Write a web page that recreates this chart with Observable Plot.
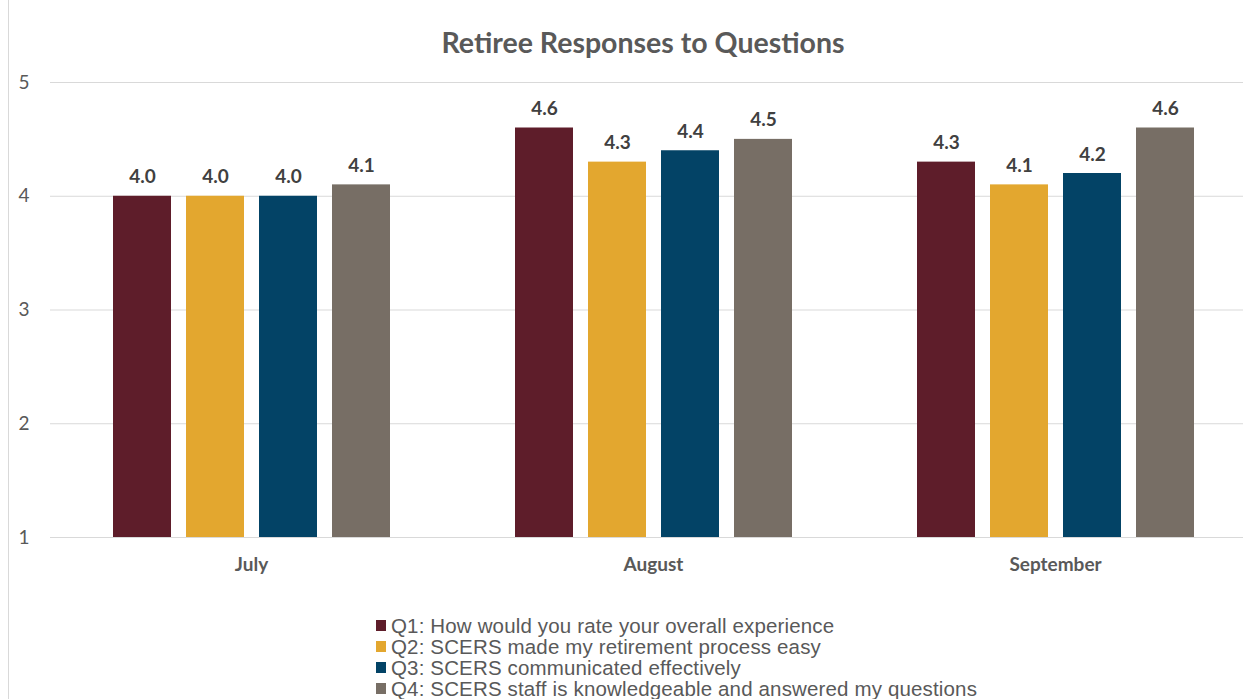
<!DOCTYPE html>
<html><head><meta charset="utf-8">
<script src="https://cdn.jsdelivr.net/npm/d3@7"></script>
<script src="https://cdn.jsdelivr.net/npm/@observablehq/plot@0.6"></script>
<style>
html,body{margin:0;padding:0;background:#fff;overflow:hidden;width:1243px;height:699px;position:relative}
#frame{position:absolute;left:8px;top:0;width:0;height:699px;border-left:1px solid #d9d9d9}
#title{position:absolute;left:0;width:1286px;top:26px;text-align:center;font:bold 28.5px Lato;color:#595959;line-height:32px}
#chart{position:absolute;left:0;top:60px;width:1256px}
#chart svg{max-width:none}
#legend{position:absolute;left:376px;top:615px;font:20.5px "Liberation Sans";letter-spacing:0.15px;color:#595959}
.row{display:flex;align-items:center;height:21px}
.sw{width:10px;height:11px;margin-right:5px}
</style></head>
<body>
<div id="frame"></div>
<div id="title">Retiree Responses to Questions</div>
<div id="chart"></div>
<div id="legend"></div>
<script>
const months = ["July", "August", "September"];
const questions = ["Q1", "Q2", "Q3", "Q4"];
const questionLabels = [
  "Q1: How would you rate your overall experience",
  "Q2: SCERS made my retirement process easy",
  "Q3: SCERS communicated effectively",
  "Q4: SCERS staff is knowledgeable and answered my questions"
];
const colors = ["#5e1d2a", "#e3a72f", "#034366", "#776e65"];
const q1 = [4.0, 4.6, 4.3];
const q2 = [4.0, 4.3, 4.1];
const q3 = [4.0, 4.4, 4.2];
const q4 = [4.1, 4.5, 4.6];
const yTicks = [1, 2, 3, 4, 5];

const series = [q1, q2, q3, q4];
const data = [];
months.forEach((m, i) => questions.forEach((q, j) => data.push({month: m, q, value: series[j][i]})));

const chart = Plot.plot({
  width: 1256,
  height: 517,
  marginLeft: 50,
  marginRight: 0,
  marginTop: 22,
  marginBottom: 40,
  style: {fontFamily: "Lato", color: "#595959", background: "transparent", maxWidth: "none"},
  fx: {domain: months, padding: 0, label: null},
  x: {domain: questions, paddingInner: 0.21, paddingOuter: 0.85, axis: null},
  y: {domain: [1, 5], ticks: yTicks, label: null},
  color: {domain: questions, range: colors},
  marks: [
    Plot.gridY(yTicks, {stroke: "#d9d9d9", strokeOpacity: 1}),
    Plot.axisY(yTicks, {tickSize: 0, tickPadding: 21, fontSize: 19, fill: "#595959", tickFormat: "d", label: null}),
    Plot.axisFx({anchor: "bottom", tickSize: 0, tickPadding: 20, fontSize: 19, fontWeight: "bold", fill: "#595959", label: null}),
    Plot.barY(data, {fx: "month", x: "q", y1: 1, y2: "value", fill: "q"}),
    Plot.text(data, {fx: "month", x: "q", y: "value", text: d => d.value.toFixed(1), dy: -19, fontSize: 19, fontWeight: "bold", fill: "#404040"})
  ]
});
document.getElementById("chart").appendChild(chart);

const legend = document.getElementById("legend");
questionLabels.forEach((t, i) => {
  const row = document.createElement("div");
  row.className = "row";
  const sw = document.createElement("span");
  sw.className = "sw";
  sw.style.background = colors[i];
  const tx = document.createElement("span");
  tx.textContent = t;
  row.appendChild(sw); row.appendChild(tx);
  legend.appendChild(row);
});
</script>
</body></html>
